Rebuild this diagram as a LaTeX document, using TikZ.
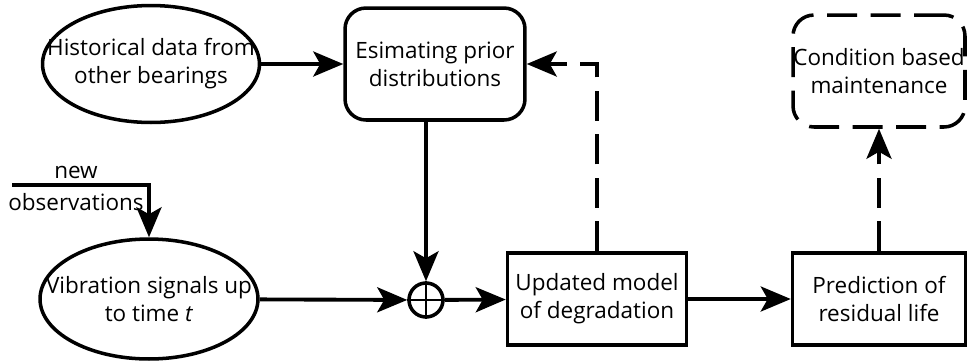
\documentclass[tikz,border=0pt]{standalone}
\usepackage{fontspec}
\setmainfont{Open Sans}
\usetikzlibrary{arrows.meta,shapes.geometric}
\tikzset{
  line/.style={line width=2.2pt,-{Stealth[length=0.6cm,width=0.5cm,inset=0.14cm]}},
  dashline/.style={line,dash pattern=on 0.6cm off 0.27cm},
  oval/.style={ellipse,draw,line width=2pt,inner sep=0pt},
  txt/.style={align=center,inner sep=0pt},
  blk/.style={rectangle,draw,line width=2pt,inner sep=0pt,align=center,minimum width=3.55cm,minimum height=1.84cm},
  rblk/.style={blk,rounded corners=0.42cm,minimum height=2.24cm}
}
\begin{document}
\begin{tikzpicture}[x=0.02cm,y=0.02cm,font=\fontsize{12.8}{16}\selectfont]
  \useasboundingbox (0,0) rectangle (967,360);
  \node[oval,minimum width=4.34cm,minimum height=2.34cm] (hist) at (151,296) {};
  \node[txt] (histtxt) at (hist) {Historical data from\\other bearings};
  \node[rblk,minimum width=3.6cm] (prior) at (435,296) {Esimating prior\\distributions};
  \node[oval,minimum width=4.36cm,minimum height=2.4cm] (vib) at (149,61) {};
  \node[txt] (vibtxt) at (vib) {Vibration signals up\\to time \textit{t}};
  \node[circle,draw,line width=2pt,minimum size=0.68cm,inner sep=0pt] (sum) at (426,60) {};
  \draw[line width=0.6pt] (sum.north) -- (sum.south) (sum.west) -- (sum.east);
  \node[blk,minimum width=3.58cm] (upd) at (597,61) {Updated model\\of degradation};
  \node[blk,minimum width=3.46cm] (pred) at (879,61) {Prediction of\\residual life};
  \node[rblk,minimum width=3.44cm,dash pattern=on 0.6cm off 0.27cm] (cbm) at (879,289) {Condition based\\maintenance};

  \coordinate (obs) at (12,175);
  \coordinate (bend) at (149,175);
  \node (new) at (76,188) {new};
  \node (obstxt) at (76,158) {observations};

  \draw[line] (hist) -- (prior);
  \draw[line] (sum |- prior.south) -- (sum);
  \draw[line] (vib) -- (sum);
  \draw[line] (sum) -- (upd);
  \draw[line] (upd) -- (pred);
  \draw[line] (obs) -- (bend) -- (vib.north);
  \draw[dashline] (upd.north) |- (prior.east);
  \draw[dashline] (pred) -- (cbm);
\end{tikzpicture}
\end{document}
